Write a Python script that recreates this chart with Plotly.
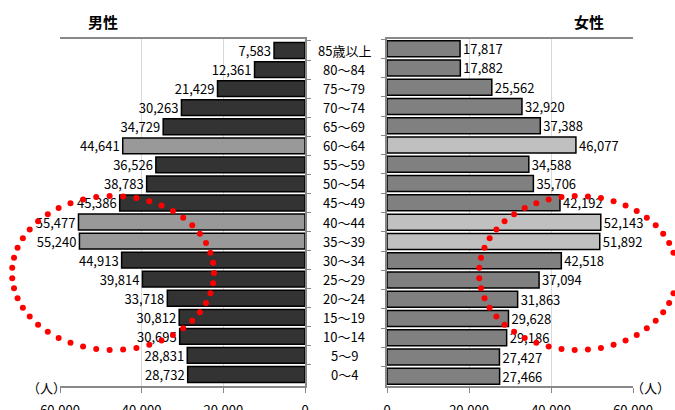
import numpy as np
import plotly.graph_objects as go

# ---- data ----
age_groups = ["85歳以上", "80～84", "75～79", "70～74", "65～69", "60～64", "55～59",
              "50～54", "45～49", "40～44", "35～39", "30～34", "25～29", "20～24",
              "15～19", "10～14", "5～9", "0～4"]
male = [7583, 12361, 21429, 30263, 34729, 44641, 36526, 38783, 45386, 55477, 55240,
        44913, 39814, 33718, 30812, 30695, 28831, 28732]
female = [17817, 17882, 25562, 32920, 37388, 46077, 34588, 35706, 42192, 52143, 51892,
          42518, 37094, 31863, 29628, 29186, 27427, 27466]
highlight = ["60～64", "40～44", "35～39"]
x_ticks = [0, 20000, 40000, 60000]

W, H = 675, 410
FONT = "Noto Sans CJK JP"

male_colors = ["#999999" if a in highlight else "#333333" for a in age_groups]
female_colors = ["#c0c0c0" if a in highlight else "#808080" for a in age_groups]

fig = go.Figure()
fig.add_trace(go.Bar(
    y=age_groups, x=male, orientation="h", xaxis="x", yaxis="y",
    marker=dict(color=male_colors, line=dict(color="#000000", width=1.5)),
    text=[f"{v:,}" for v in male], textposition="outside", cliponaxis=False,
    constraintext="none", textfont=dict(size=13, color="#000000", family=FONT),
    hoverinfo="skip", showlegend=False))
fig.add_trace(go.Bar(
    y=age_groups, x=female, orientation="h", xaxis="x2", yaxis="y2",
    marker=dict(color=female_colors, line=dict(color="#000000", width=1.5)),
    text=[f"{v:,}" for v in female], textposition="outside", cliponaxis=False,
    constraintext="none", textfont=dict(size=13, color="#000000", family=FONT),
    hoverinfo="skip", showlegend=False))

# ---- decorative red dotted ellipses (pixel overlay) ----
def ellipse_dots(cx, cy, rx, ry, n):
    t = np.linspace(0, 2 * np.pi, n, endpoint=False)
    return cx + rx * np.cos(t), cy + ry * np.sin(t)

for cx, cy, rx, ry in [(113, 273, 101, 77), (578, 273, 99, 77)]:
    ex, ey = ellipse_dots(cx, cy, rx, ry, 47)
    fig.add_trace(go.Scatter(
        x=ex, y=ey, mode="markers", xaxis="x3", yaxis="y3",
        marker=dict(color="#ff0000", size=6, line=dict(width=0)),
        cliponaxis=False, hoverinfo="skip", showlegend=False))

def px(x):
    return x / W

def py(y):
    return 1 - y / H

top, bottom = 39, 386
axis_common = dict(
    tickvals=x_ticks, tickformat=",d", showgrid=True, gridcolor="#d9d9d9", gridwidth=1,
    zeroline=False, showline=True, linecolor="#888888", linewidth=1.5, mirror=True,
    ticks="outside", ticklen=5, tickcolor="#888888", automargin=False,
    ticklabelstandoff=7,
    tickfont=dict(size=13, color="#000000", family=FONT), fixedrange=True)

ycommon = dict(domain=[py(bottom), py(top)], autorange="reversed", showticklabels=False,
               showgrid=False, showline=True, linecolor="#888888", linewidth=1.5,
               ticks="outside", ticklen=4, tickcolor="#888888", tickson="boundaries",
               automargin=False, fixedrange=True)

fig.update_layout(
    width=W, height=H, autosize=False,
    margin=dict(l=0, r=0, t=0, b=0, pad=0, autoexpand=False),
    paper_bgcolor="#ffffff", plot_bgcolor="rgba(0,0,0,0)",
    bargap=0.17,
    font=dict(family=FONT, size=13, color="#000000"),
    xaxis=dict(domain=[px(60), px(305)], range=[60000, 0], anchor="y", **axis_common),
    xaxis2=dict(domain=[px(387), px(633)], range=[0, 60000], anchor="y2", **axis_common),
    yaxis=dict(anchor="x", side="right", **ycommon),
    yaxis2=dict(anchor="x2", side="left", **ycommon),
    xaxis3=dict(domain=[0, 1], range=[0, W], visible=False, anchor="y3", fixedrange=True),
    yaxis3=dict(domain=[0, 1], range=[H, 0], visible=False, anchor="x3", fixedrange=True),
)

annotations = []
for a in age_groups:
    annotations.append(dict(x=px(344), y=a, xref="paper", yref="y", text=a,
                            showarrow=False, xanchor="center", yanchor="middle",
                            font=dict(size=13, color="#000000", family=FONT)))
for txt, x in [("<b>男性</b>", 103), ("<b>女性</b>", 589)]:
    annotations.append(dict(x=px(x), y=py(21), xref="paper", yref="paper", text=txt,
                            showarrow=False, xanchor="center", yanchor="middle",
                            font=dict(size=15, color="#000000", family=FONT)))
for x in [46, 650]:
    annotations.append(dict(x=px(x), y=py(387), xref="paper", yref="paper", text="（人）",
                            showarrow=False, xanchor="center", yanchor="middle",
                            font=dict(size=13, color="#000000", family=FONT)))
fig.update_layout(annotations=annotations)

fig.write_html(
    "out.html",
    config={"displayModeBar": False},
    post_script="document.body.style.margin='0';document.body.style.padding='0';"
                "document.body.style.overflow='hidden';",
)
